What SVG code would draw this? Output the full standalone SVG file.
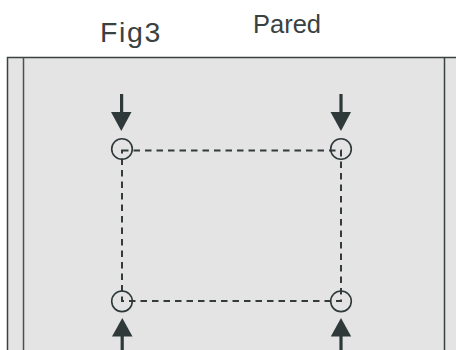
<svg xmlns="http://www.w3.org/2000/svg" width="456" height="350" viewBox="0 0 456 350">
<style>
.t{font-family:"Liberation Sans",Arial,sans-serif;fill:#3a4141}
.wall{stroke:#3a4242;stroke-width:1.5}
.dash{fill:none;stroke:#333b3b;stroke-width:2;stroke-dasharray:6.5 5}
.ring{fill:none;stroke:#2f3838;stroke-width:1.6}
.arr{fill:#2f3939}
</style>
<rect x="0" y="0" width="456" height="350" fill="#ffffff"/>
<g id="wall">
<rect x="7.5" y="57.5" width="460" height="300" fill="#e4e4e4" class="wall"/>
<line x1="23.5" y1="57.5" x2="23.5" y2="350" stroke="#4a5252" stroke-width="1.5"/>
<line x1="444.5" y1="57.5" x2="444.5" y2="350" class="wall"/>
</g>
<text class="t" x="100" y="41.5" font-size="28.5" letter-spacing="1.6">Fig3</text>
<text class="t" x="253" y="32.5" font-size="25.5">Pared</text>
<g id="connectors">
<rect x="122" y="150.5" width="219" height="150.5" class="dash"/>
</g>
<g id="n1"><circle cx="122" cy="149" r="10.3" class="ring"/></g>
<g id="n2"><circle cx="341" cy="149" r="10.3" class="ring"/></g>
<g id="n3"><circle cx="122" cy="301.3" r="10.3" class="ring"/></g>
<g id="n4"><circle cx="341" cy="301.3" r="10.3" class="ring"/></g>
<g id="a1" class="arr"><rect x="120" y="94" width="3.2" height="20"/><polygon points="111,112 131.5,112 121.3,131"/></g>
<g id="a2" class="arr"><rect x="339.4" y="94" width="3.2" height="20"/><polygon points="330.5,112 351,112 341,131"/></g>
<g id="a3" class="arr"><rect x="120.6" y="334" width="3.2" height="16"/><polygon points="112,336.5 132.5,336.5 122.3,318"/></g>
<g id="a4" class="arr"><rect x="339.4" y="334" width="3.2" height="16"/><polygon points="330.8,336.5 351.2,336.5 341,318"/></g>
</svg>
